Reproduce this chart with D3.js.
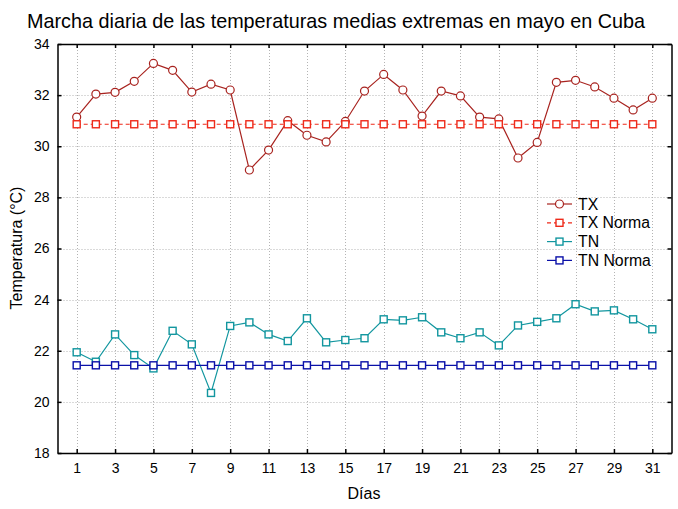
<!DOCTYPE html>
<html><head><meta charset="utf-8">
<script src="https://cdn.jsdelivr.net/npm/d3@7/dist/d3.min.js"></script>
<style>body{margin:0;background:#fff;} text{font-family:"Liberation Sans",Arial,sans-serif;}</style>
</head><body><svg id="c" width="678" height="509"></svg>
<script>
const days = d3.range(1, 32);
const tx = [31.14,32.04,32.11,32.54,33.24,32.97,32.12,32.43,32.2,29.07,29.85,31.0,30.43,30.17,30.97,32.16,32.81,32.2,31.18,32.16,31.97,31.14,31.07,29.54,30.15,32.5,32.58,32.32,31.88,31.42,31.88];
const txNorma = days.map(() => 30.86);
const tn = [21.94,21.57,22.64,21.83,21.31,22.78,22.25,20.35,22.97,23.11,22.64,22.38,23.27,22.33,22.42,22.49,23.23,23.19,23.31,22.72,22.49,22.72,22.21,22.99,23.13,23.27,23.82,23.54,23.58,23.23,22.84];
const tnNorma = days.map(() => 21.43);
const xTicks = [1,3,5,7,9,11,13,15,17,19,21,23,25,27,29,31];
const yTicks = [18,20,22,24,26,28,30,32,34];

const svg = d3.select("#c");
const L = 57.5, R = 671.5, T = 44, B = 453;
const x = d3.scaleLinear().domain([0, 32]).range([L, R]);
const y = d3.scaleLinear().domain([18, 34]).range([B, T]);

// grid
svg.append("g").selectAll("line").data(xTicks).join("line")
  .attr("x1", d => Math.round(x(d)) + 0.5).attr("x2", d => Math.round(x(d)) + 0.5)
  .attr("y1", T).attr("y2", B).attr("stroke", "#b4b4b4").attr("stroke-dasharray", "1,2");
svg.append("g").selectAll("line").data(yTicks.slice(1, -1)).join("line")
  .attr("y1", d => Math.round(y(d)) + 0.5).attr("y2", d => Math.round(y(d)) + 0.5)
  .attr("x1", L).attr("x2", R).attr("stroke", "#b4b4b4").attr("stroke-dasharray", "1,2");

// axes with inward ticks
const gB = svg.append("g").attr("transform", `translate(0,${B})`)
  .call(d3.axisBottom(x).tickValues(xTicks).tickSizeInner(-4).tickSizeOuter(0).tickPadding(10));
const gT = svg.append("g").attr("transform", `translate(0,${T})`)
  .call(d3.axisTop(x).tickValues(xTicks).tickSizeInner(-4).tickSizeOuter(0).tickFormat(""));
const gL = svg.append("g").attr("transform", `translate(${L},0)`)
  .call(d3.axisLeft(y).tickValues(yTicks).tickSizeInner(-4).tickSizeOuter(0).tickPadding(8));
const gR = svg.append("g").attr("transform", `translate(${R},0)`)
  .call(d3.axisRight(y).tickValues(yTicks).tickSizeInner(-4).tickSizeOuter(0).tickFormat(""));
[gB, gT, gL, gR].forEach(g => {
  g.select(".domain").attr("stroke", "#000").attr("stroke-width", 1.5);
  g.selectAll(".tick line").attr("stroke", "#000").attr("stroke-width", 1.5);
  g.selectAll("text").attr("font-size", 14).attr("fill", "#000").attr("font-family", "Liberation Sans, Arial, sans-serif");
});

const line = d3.line().x((d, i) => x(days[i])).y(d => y(d));

function series(vals, color, dash, marker) {
  svg.append("path").datum(vals).attr("d", line).attr("fill", "none")
    .attr("stroke", color).attr("stroke-width", 1.2).attr("stroke-dasharray", dash);
  const g = svg.append("g");
  if (marker === "circle") {
    g.selectAll("circle").data(vals).join("circle")
      .attr("cx", (d, i) => x(days[i])).attr("cy", d => y(d)).attr("r", 4)
      .attr("fill", "#fff").attr("stroke", color).attr("stroke-width", 1.2);
  } else {
    g.selectAll("rect").data(vals).join("rect")
      .attr("x", (d, i) => x(days[i]) - 3.5).attr("y", d => y(d) - 3.5)
      .attr("width", 7).attr("height", 7)
      .attr("fill", "#fff").attr("stroke", color).attr("stroke-width", 1.4);
  }
}
const S = [
  {name: "TX", vals: tx, color: "#a8231f", dash: null, marker: "circle"},
  {name: "TX Norma", vals: txNorma, color: "#ee2a1a", dash: "4,3", marker: "rect"},
  {name: "TN", vals: tn, color: "#12969f", dash: null, marker: "rect"},
  {name: "TN Norma", vals: tnNorma, color: "#0a10a8", dash: null, marker: "rect"}
];
S.forEach(s => series(s.vals, s.color, s.dash, s.marker));

// legend
const lg = svg.append("g");
S.forEach((s, i) => {
  const yy = 204 + i * 18.8;
  lg.append("line").attr("x1", 547).attr("x2", 572).attr("y1", yy).attr("y2", yy)
    .attr("stroke", s.color).attr("stroke-width", 1.2).attr("stroke-dasharray", s.dash);
  if (s.marker === "circle") lg.append("circle").attr("cx", 559.5).attr("cy", yy).attr("r", 4)
    .attr("fill", "#fff").attr("stroke", s.color).attr("stroke-width", 1.2);
  else lg.append("rect").attr("x", 556).attr("y", yy - 3.5).attr("width", 7).attr("height", 7)
    .attr("fill", "#fff").attr("stroke", s.color).attr("stroke-width", 1.4);
  lg.append("text").attr("x", 578).attr("y", yy + 5.5).attr("font-size", 15.8).attr("fill", "#000").text(s.name);
});

// titles
svg.append("text").attr("x", 336).attr("y", 28).attr("text-anchor", "middle")
  .attr("font-size", 19.8).attr("fill", "#000").text("Marcha diaria de las temperaturas medias extremas en mayo en Cuba");
svg.append("text").attr("x", 364).attr("y", 499).attr("text-anchor", "middle")
  .attr("font-size", 16).attr("fill", "#000").text("Días");
svg.append("text").attr("transform", "translate(22,248) rotate(-90)").attr("text-anchor", "middle")
  .attr("font-size", 16).attr("fill", "#000").text("Temperatura (°C)");
</script></body></html>
